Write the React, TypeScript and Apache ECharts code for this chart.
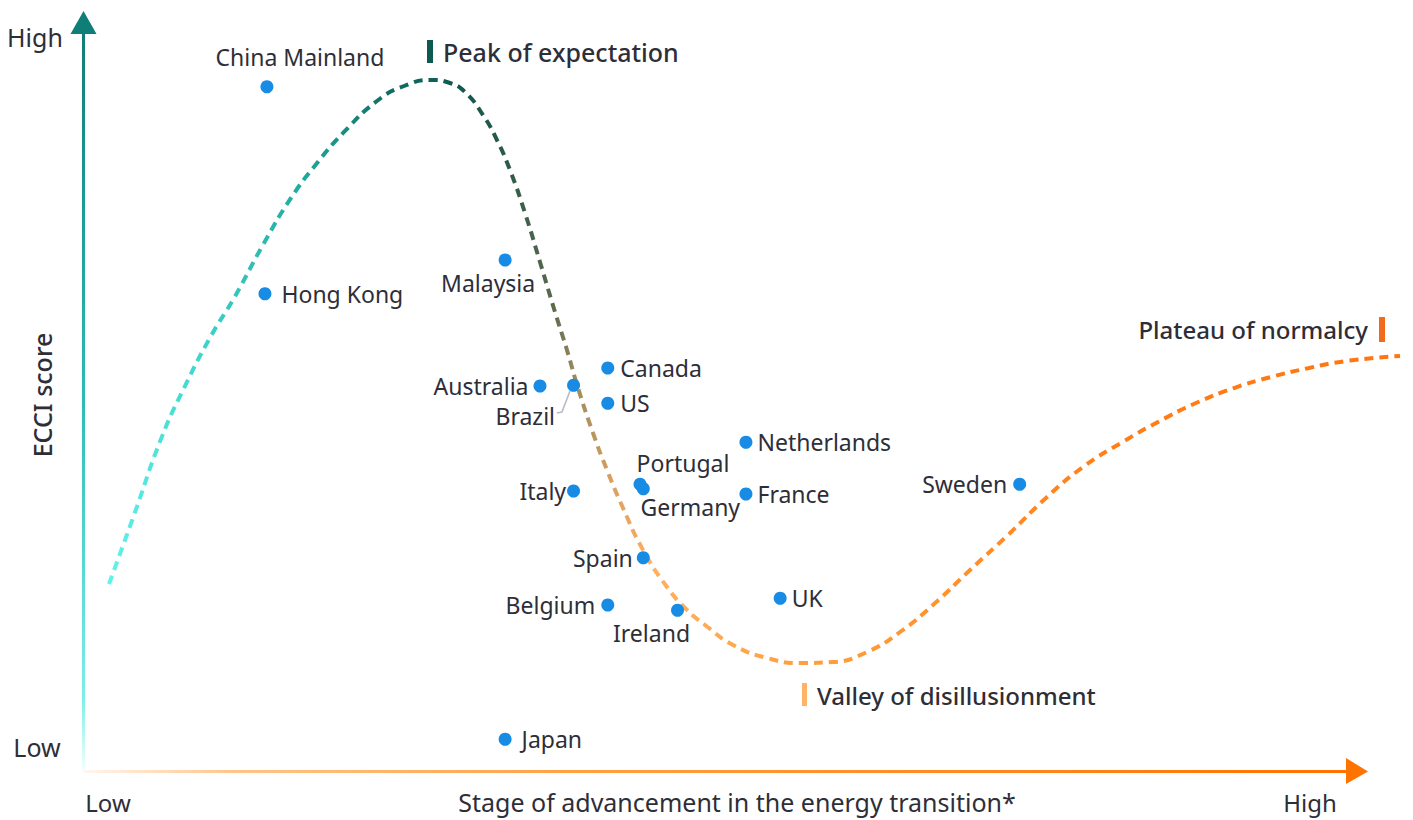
import React, { useEffect, useRef } from "react";
import * as echarts from "echarts";

// ---- Data ----
const countries = [
  "China Mainland", "Hong Kong", "Malaysia", "Australia", "Brazil", "Canada", "US",
  "Netherlands", "Portugal", "Germany", "Italy", "France", "Sweden", "Spain",
  "Belgium", "Ireland", "UK", "Japan",
];
const stage = [13.9, 13.75, 32.0, 34.65, 37.2, 39.8, 39.8, 50.3, 42.25, 42.5, 37.2, 50.3, 71.1, 42.5, 39.8, 45.1, 52.9, 32.0];
const ecci = [91.1, 63.5, 68.0, 51.2, 51.3, 53.6, 48.9, 43.7, 38.1, 37.5, 37.2, 36.8, 38.1, 28.3, 22.0, 21.3, 22.9, 4.1];

// Hype-cycle curve
const curveX = [1.9, 3.8, 5.85, 7.6, 9.65, 11.4, 13.68, 15.73, 17.71, 19.76, 22.26, 24.32, 26.37, 27.81, 28.95, 30.32, 31.38, 32.37, 33.51, 34.65, 35.79, 36.7, 37.54, 38.68, 39.74, 40.96, 42.48, 44.3, 45.82, 47.19, 49.32, 51.9, 54.41, 56.91, 59.5, 62.01, 64.51, 67.33, 70.21, 73.1, 75.91, 78.8, 81.61, 84.5, 87.39, 90.2, 93.09, 95.9, 100];
const curveY = [24.8, 34.0, 44.13, 50.93, 57.87, 62.93, 70.27, 76.27, 80.93, 85.07, 89.2, 91.2, 92.0, 91.6, 90.4, 87.33, 84.0, 80.0, 74.27, 67.73, 61.07, 56.0, 50.93, 44.93, 40.0, 34.93, 29.33, 24.4, 21.33, 19.33, 16.67, 14.93, 14.27, 14.4, 15.73, 18.4, 22.0, 26.67, 31.33, 36.27, 40.4, 43.6, 46.4, 48.93, 50.93, 52.4, 53.6, 54.53, 55.2];

// Leader line for the Brazil label
const brazilLeaderX = [36.93, 36.32, 35.94];
const brazilLeaderY = [50.53, 47.73, 47.6];

const yTickLabels = ["Low", "High"];
const xTickLabels = ["Low", "High"];
const xAxisTitle = "Stage of advancement in the energy transition*";
const yAxisTitle = "ECCI score";
const phases = ["Peak of expectation", "Valley of disillusionment", "Plateau of normalcy"];

// ---- Styles ----
const TEXT = "#2e2e38";
const FONT = "'Noto Sans', 'Open Sans', sans-serif";
const DOT = "#188ce5";

const labelPlacement: Record<string, any> = {
  "China Mainland": { position: "top", offset: [33, -7] },
  "Hong Kong": { position: "right", distance: 10 },
  Malaysia: { position: "bottom", offset: [-17, 0] },
  Australia: { position: "left", distance: 5 },
  Brazil: { position: "left", distance: 5, offset: [-7, 31] },
  Canada: { position: "right", distance: 6 },
  US: { position: "right", distance: 6 },
  Netherlands: { position: "right", distance: 5 },
  Portugal: { position: "top", offset: [43, 2] },
  Germany: { position: "bottom", offset: [47, -5] },
  Italy: { position: "left", distance: 1 },
  France: { position: "right", distance: 5 },
  Sweden: { position: "left", distance: 6 },
  Spain: { position: "left", distance: 4 },
  Belgium: { position: "left", distance: 6 },
  Ireland: { position: "bottom", offset: [-26, 0] },
  UK: { position: "right", distance: 5 },
  Japan: { position: "right", distance: 10 },
};

export default function App() {
  const ref = useRef<HTMLDivElement>(null);
  useEffect(() => {
    document.body.style.margin = "0";
    const chart = echarts.init(ref.current!, null, { renderer: "svg" });

    const scatterData = countries.map((name, i) => ({
      name,
      value: [stage[i], ecci[i]],
      label: { ...(labelPlacement[name] || {}) },
    }));

    const curveGrad = new echarts.graphic.LinearGradient(109, 0, 1400, 0, [
      { offset: 0, color: "#62f2ea" },
      { offset: 0.07, color: "#3fd6cc" },
      { offset: 0.152, color: "#1fa89c" },
      { offset: 0.214, color: "#126f64" },
      { offset: 0.268, color: "#0d5a50" },
      { offset: 0.307, color: "#2a5a48" },
      { offset: 0.345, color: "#5e6a50" },
      { offset: 0.36, color: "#9a8a5c" },
      { offset: 0.39, color: "#d9a060" },
      { offset: 0.419, color: "#ffb060" },
      { offset: 0.535, color: "#ffa040" },
      { offset: 0.67, color: "#ff8f28" },
      { offset: 0.77, color: "#ff7f18" },
      { offset: 1, color: "#ff7510" },
    ], true);

    const option: any = {
      animation: false,
      backgroundColor: "#ffffff",
      textStyle: { fontFamily: FONT },
      grid: { left: 84, right: 13, top: 20, bottom: 50 },
      xAxis: { type: "value", min: 0, max: 100, show: false },
      yAxis: { type: "value", min: 0, max: 100, show: false },
      series: [
        {
          type: "line",
          data: curveX.map((x, i) => [x, curveY[i]]),
          showSymbol: false,
          symbol: "none",
          smooth: 0.5,
          lineStyle: { width: 4, type: [9, 6], color: curveGrad },
          z: 2,
        },
        {
          type: "line",
          data: brazilLeaderX.map((x, i) => [x, brazilLeaderY[i]]),
          showSymbol: false,
          symbol: "none",
          lineStyle: { width: 1.6, color: "#b9b9c2" },
          z: 2,
        },
        {
          type: "scatter",
          data: scatterData,
          symbolSize: 13,
          itemStyle: { color: DOT, opacity: 1 },
          label: {
            show: true,
            formatter: "{b}",
            color: TEXT,
            fontSize: 23,
            fontFamily: FONT,
          },
          z: 3,
        },
      ],
      graphic: [
        // Y axis
        {
          type: "rect",
          shape: { x: 82, y: 30, width: 3, height: 742 },
          style: {
            fill: new echarts.graphic.LinearGradient(0, 0, 0, 1, [
              { offset: 0, color: "#0f7e76" },
              { offset: 0.5, color: "#2bbdb5" },
              { offset: 0.9, color: "#7deee8" },
              { offset: 1, color: "#f4ffff" },
            ]),
          },
        },
        { type: "polygon", shape: { points: [[83.5, 11], [70.5, 34], [96.5, 34]] }, style: { fill: "#0f7e76" } },
        // X axis
        {
          type: "rect",
          shape: { x: 84, y: 770, width: 1264, height: 3 },
          style: {
            fill: new echarts.graphic.LinearGradient(0, 0, 1, 0, [
              { offset: 0, color: "#fff6ef" },
              { offset: 0.12, color: "#ffc488" },
              { offset: 0.4, color: "#ffa040" },
              { offset: 1, color: "#ff7200" },
            ]),
          },
        },
        { type: "polygon", shape: { points: [[1346, 758], [1346, 784], [1368, 771.5]] }, style: { fill: "#ff7300" } },
        // axis texts
        { type: "text", x: 35, y: 37, style: { text: yTickLabels[1], fill: TEXT, font: `25px ${FONT}`, align: "center", verticalAlign: "middle" } },
        { type: "text", x: 37, y: 747, style: { text: yTickLabels[0], fill: TEXT, font: `25px ${FONT}`, align: "center", verticalAlign: "middle" } },
        { type: "text", x: 108, y: 802, style: { text: xTickLabels[0], fill: TEXT, font: `24px ${FONT}`, align: "center", verticalAlign: "middle" } },
        { type: "text", x: 1310, y: 802, style: { text: xTickLabels[1], fill: TEXT, font: `24px ${FONT}`, align: "center", verticalAlign: "middle" } },
        { type: "text", x: 737, y: 802, style: { text: xAxisTitle, fill: TEXT, font: `25px ${FONT}`, align: "center", verticalAlign: "middle" } },
        { type: "text", x: 42, y: 395, rotation: Math.PI / 2, style: { text: yAxisTitle, fill: TEXT, font: `500 25px ${FONT}`, align: "center", verticalAlign: "middle" } },
        // phase annotations
        { type: "rect", shape: { x: 427, y: 40, width: 6, height: 23 }, style: { fill: "#0d5a50" } },
        { type: "text", x: 443, y: 52, style: { text: phases[0], fill: TEXT, font: `500 25px ${FONT}`, align: "left", verticalAlign: "middle" } },
        { type: "rect", shape: { x: 802, y: 683, width: 5, height: 23 }, style: { fill: "#ffb366" } },
        { type: "text", x: 817, y: 695, style: { text: phases[1], fill: TEXT, font: `500 24px ${FONT}`, align: "left", verticalAlign: "middle" } },
        { type: "rect", shape: { x: 1379, y: 317, width: 6, height: 25 }, style: { fill: "#f26b1d" } },
        { type: "text", x: 1368, y: 329, style: { text: phases[2], fill: TEXT, font: `500 24px ${FONT}`, align: "right", verticalAlign: "middle" } },
      ],
    };
    chart.setOption(option);
    return () => chart.dispose();
  }, []);
  return <div ref={ref} style={{ width: 1413, height: 820 }} />;
}
